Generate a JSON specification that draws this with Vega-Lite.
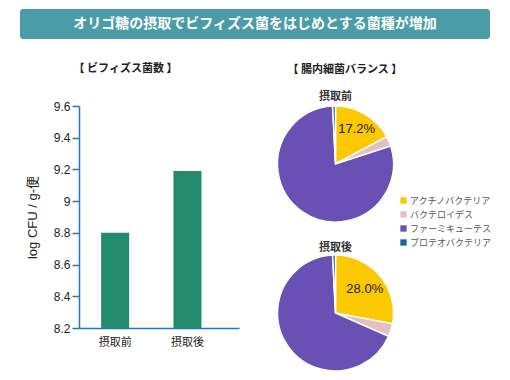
{
  "$schema": "https://vega.github.io/schema/vega-lite/v6.json",
  "padding": {"left": 20, "top": 9, "right": 5, "bottom": 5},
  "background": "white",
  "config": {
    "font": "Liberation Sans, Noto Sans CJK JP",
    "view": {"stroke": null}
  },
  "datasets": {
    "banner": [{"t": "オリゴ糖の摂取でビフィズス菌をはじめとする菌種が増加"}],
    "bars": [
      {"period": "摂取前", "value": 8.8},
      {"period": "摂取後", "value": 9.19}
    ],
    "pie": [
      {"when": "摂取前", "name": "アクチノバクテリア", "value": 17.2, "label": "17.2%"},
      {"when": "摂取前", "name": "バクテロイデス", "value": 2.8, "label": ""},
      {"when": "摂取前", "name": "ファーミキューテス", "value": 79.2, "label": ""},
      {"when": "摂取前", "name": "プロテオバクテリア", "value": 0.8, "label": ""},
      {"when": "摂取後", "name": "アクチノバクテリア", "value": 28.0, "label": "28.0%"},
      {"when": "摂取後", "name": "バクテロイデス", "value": 3.6, "label": ""},
      {"when": "摂取後", "name": "ファーミキューテス", "value": 67.6, "label": ""},
      {"when": "摂取後", "name": "プロテオバクテリア", "value": 0.8, "label": ""}
    ]
  },
  "spacing": 24,
  "vconcat": [
    {
      "width": 470,
      "height": 30,
      "view": {"fill": "#4a9ca6", "stroke": null, "cornerRadius": 3},
      "data": {"name": "banner"},
      "mark": {"type": "text", "color": "white", "fontSize": 14, "fontWeight": "bold", "font": "Noto Sans CJK JP"},
      "encoding": {"text": {"field": "t", "type": "nominal"}}
    },
    {
      "spacing": 35.5,
      "hconcat": [
        {
          "width": 219,
          "height": 222,
          "title": {"text": "【 ビフィズス菌数 】", "fontSize": 11, "fontWeight": "bold", "font": "Noto Sans CJK JP", "frame": "bounds", "dx": -4, "offset": 26, "color": "#222"},
          "data": {"name": "bars"},
          "mark": {"type": "bar", "color": "#218b6c", "width": 28, "clip": true},
          "encoding": {
            "x": {
              "field": "period", "type": "nominal", "sort": ["摂取前", "摂取後"],
              "scale": {"range": [59, 219], "paddingInner": 0, "paddingOuter": 0.1065, "align": 0},
              "axis": {"title": null, "labelAngle": 0, "domainColor": "#2176c7", "domainWidth": 1.5, "ticks": false, "labelPadding": 8, "labelFontSize": 11, "labelColor": "#222", "labelFont": "Noto Sans CJK JP"}
            },
            "y": {
              "field": "value", "type": "quantitative",
              "scale": {"domain": [8.2, 9.6], "zero": false, "nice": false},
              "axis": {
                "offset": -59,
                "values": [8.2, 8.4, 8.6, 8.8, 9, 9.2, 9.4, 9.6],
                "labelExpr": "'' + datum.value",
                "title": "log CFU / g-便", "titleFontSize": 13, "titleFontWeight": "normal", "titleColor": "#222", "titlePadding": 14,
                "grid": false, "domainColor": "#2176c7", "domainWidth": 1.5,
                "tickColor": "#2176c7", "tickSize": 7, "tickWidth": 1.5,
                "labelPadding": 2, "labelFontSize": 12, "labelColor": "#222"
              }
            }
          }
        },
        {
          "title": {"text": "【 腸内細菌バランス 】", "fontSize": 11, "fontWeight": "bold", "font": "Noto Sans CJK JP", "dx": 13, "offset": 16, "color": "#222"},
          "spacing": 17,
          "vconcat": [
            {
              "width": 116,
              "height": 116,
              "title": {"text": "摂取前", "fontSize": 11, "fontWeight": "bold", "font": "Noto Sans CJK JP", "offset": 1, "color": "#333"},
              "data": {"name": "pie"},
              "transform": [{"filter": "datum.when === '摂取前'"}],
              "encoding": {
                "theta": {"field": "value", "type": "quantitative", "stack": true},
                "order": {"field": "name", "type": "nominal", "sort": "ascending"},
                "color": {
                  "field": "name", "type": "nominal",
                  "scale": {"domain": ["アクチノバクテリア", "バクテロイデス", "ファーミキューテス", "プロテオバクテリア"], "range": ["#fcc800", "#e2c0c0", "#6850b4", "#1b62a8"]},
                  "legend": {"title": null, "orient": "none", "legendX": 379, "legendY": 187, "symbolType": "square", "symbolSize": 40, "symbolStrokeWidth": 0, "labelFontSize": 9, "labelColor": "#555", "labelFont": "Noto Sans CJK JP", "rowPadding": 4, "labelOffset": 2, "padding": 0}
                }
              },
              "layer": [
                {"mark": {"type": "arc", "stroke": "white", "strokeWidth": 1.5}},
                {
                  "mark": {"type": "text", "radius": 41, "fontSize": 13, "color": "#222"},
                  "encoding": {"text": {"field": "label", "type": "nominal"}, "color": {"value": "#222"}}
                }
              ]
            },
            {
              "width": 116,
              "height": 116,
              "title": {"text": "摂取後", "fontSize": 11, "fontWeight": "bold", "font": "Noto Sans CJK JP", "offset": -1, "color": "#333"},
              "data": {"name": "pie"},
              "transform": [{"filter": "datum.when === '摂取後'"}],
              "encoding": {
                "theta": {"field": "value", "type": "quantitative", "stack": true},
                "order": {"field": "name", "type": "nominal", "sort": "ascending"},
                "color": {
                  "field": "name", "type": "nominal",
                  "scale": {"domain": ["アクチノバクテリア", "バクテロイデス", "ファーミキューテス", "プロテオバクテリア"], "range": ["#fcc800", "#e2c0c0", "#6850b4", "#1b62a8"]},
                  "legend": {"title": null, "orient": "none", "legendX": 379, "legendY": 187, "symbolType": "square", "symbolSize": 40, "symbolStrokeWidth": 0, "labelFontSize": 9, "labelColor": "#555", "labelFont": "Noto Sans CJK JP", "rowPadding": 4, "labelOffset": 2, "padding": 0}
                }
              },
              "layer": [
                {"mark": {"type": "arc", "stroke": "white", "strokeWidth": 1.5}},
                {
                  "mark": {"type": "text", "radius": 38, "fontSize": 13, "color": "#222"},
                  "encoding": {"text": {"field": "label", "type": "nominal"}, "color": {"value": "#222"}}
                }
              ]
            }
          ]
        }
      ]
    }
  ]
}
